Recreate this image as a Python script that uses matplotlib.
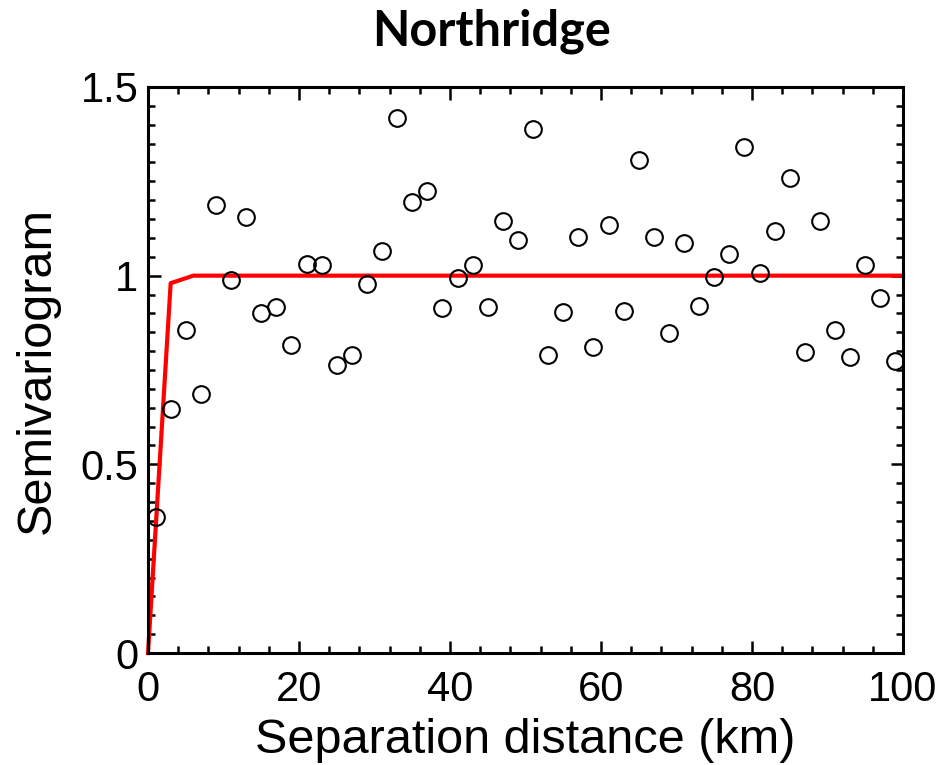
import matplotlib
matplotlib.use("Agg")
import matplotlib.pyplot as plt
from matplotlib.ticker import MultipleLocator

# Empirical semivariogram (lag centres in km)
lag_km = [1, 3, 5, 7, 9, 11, 13, 15, 17, 19, 21, 23, 25, 27, 29, 31, 33, 35, 37, 39,
          41, 43, 45, 47, 49, 51, 53, 55, 57, 59, 61, 63, 65, 67, 69, 71, 73, 75, 77, 79,
          81, 83, 85, 87, 89, 91, 93, 95, 97, 99]
gamma = [0.360, 0.647, 0.856, 0.686, 1.187, 0.989, 1.156, 0.901, 0.917, 0.816,
         1.031, 1.028, 0.763, 0.790, 0.978, 1.065, 1.418, 1.195, 1.224, 0.914,
         0.994, 1.028, 0.917, 1.145, 1.095, 1.389, 0.790, 0.904, 1.103, 0.811,
         1.134, 0.906, 1.307, 1.103, 0.848, 1.087, 0.920, 0.997, 1.058, 1.341,
         1.007, 1.118, 1.259, 0.798, 1.145, 0.856, 0.785, 1.028, 0.941, 0.774]

# Fitted model
model_km = [0, 3, 6, 100]
model_gamma = [0.0, 0.98, 1.0, 1.0]

fig = plt.figure(figsize=(9.38, 7.65), dpi=100)
ax = fig.add_axes([0.1578, 0.1464, 0.8049, 0.7399])

ax.plot(model_km, model_gamma, color="#ff0000", lw=3, zorder=2, clip_on=False)
ax.plot(lag_km, gamma, ls="none", marker="o", ms=12, mfc="none", mec="black",
        mew=1.5, zorder=3, clip_on=False)

ax.set_xlim(0, 100)
ax.set_ylim(0, 1.5)
ax.xaxis.set_major_locator(MultipleLocator(20))
ax.xaxis.set_minor_locator(MultipleLocator(4))
ax.yaxis.set_major_locator(MultipleLocator(0.5))
ax.yaxis.set_minor_locator(MultipleLocator(0.05))
ax.set_yticks([0, 0.5, 1, 1.5])
ax.set_yticklabels(["0", "0.5", "1", "1.5"])

for s in ax.spines.values():
    s.set_linewidth(2.2)
ax.tick_params(which="both", direction="in", top=True, right=True,
               labelsize=30, width=1.8)
ax.tick_params(axis="x", pad=12)
ax.tick_params(axis="y", pad=7)
ax.tick_params(which="major", length=9)
ax.tick_params(which="minor", length=5)
for lab in ax.get_xticklabels() + ax.get_yticklabels():
    lab.set_family("Liberation Sans")

ax.set_xlabel("Separation distance (km)", fontsize=35, family="Liberation Sans", labelpad=6)
ax.set_ylabel("Semivariogram", fontsize=35, family="Liberation Sans", labelpad=15)
fig.text(0.524, 0.941, "Northridge", fontsize=35, fontweight="bold", family="Lato",
         ha="center", va="baseline")

fig.savefig("out.png", dpi=100)
